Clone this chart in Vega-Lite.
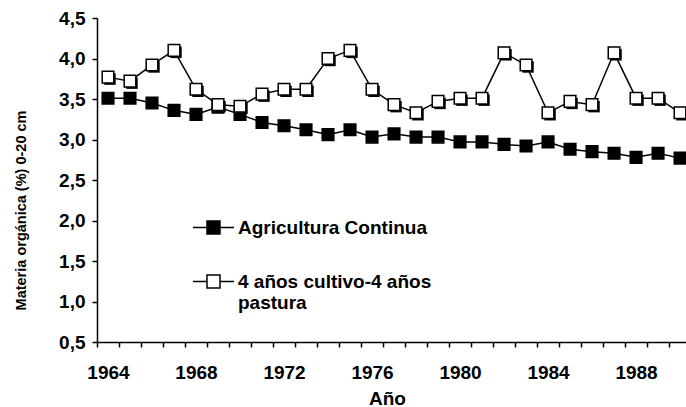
{
  "$schema": "https://vega.github.io/schema/vega-lite/v6.json",
  "width": 589,
  "height": 324,
  "autosize": {"type": "none"},
  "padding": {"left": 97, "top": 18, "right": 0, "bottom": 65},
  "background": "white",
  "config": {
    "view": {"stroke": null},
    "font": "Liberation Sans",
    "axis": {
      "domainColor": "black",
      "domainWidth": 1.5,
      "tickColor": "black",
      "tickWidth": 1.5,
      "tickSize": 5,
      "grid": false,
      "labelFont": "Liberation Sans",
      "labelFontWeight": "bold",
      "labelFontSize": 19,
      "labelColor": "black",
      "titleFont": "Liberation Sans",
      "titleFontWeight": "bold",
      "titleColor": "black"
    }
  },
  "data": {
    "values": [
      {"anio": 1964, "serie": "Agricultura Continua", "valor": 3.51},
      {"anio": 1965, "serie": "Agricultura Continua", "valor": 3.51},
      {"anio": 1966, "serie": "Agricultura Continua", "valor": 3.45},
      {"anio": 1967, "serie": "Agricultura Continua", "valor": 3.36},
      {"anio": 1968, "serie": "Agricultura Continua", "valor": 3.31},
      {"anio": 1969, "serie": "Agricultura Continua", "valor": 3.40},
      {"anio": 1970, "serie": "Agricultura Continua", "valor": 3.31},
      {"anio": 1971, "serie": "Agricultura Continua", "valor": 3.21},
      {"anio": 1972, "serie": "Agricultura Continua", "valor": 3.17},
      {"anio": 1973, "serie": "Agricultura Continua", "valor": 3.12},
      {"anio": 1974, "serie": "Agricultura Continua", "valor": 3.06},
      {"anio": 1975, "serie": "Agricultura Continua", "valor": 3.12},
      {"anio": 1976, "serie": "Agricultura Continua", "valor": 3.03},
      {"anio": 1977, "serie": "Agricultura Continua", "valor": 3.07},
      {"anio": 1978, "serie": "Agricultura Continua", "valor": 3.03},
      {"anio": 1979, "serie": "Agricultura Continua", "valor": 3.03},
      {"anio": 1980, "serie": "Agricultura Continua", "valor": 2.97},
      {"anio": 1981, "serie": "Agricultura Continua", "valor": 2.97},
      {"anio": 1982, "serie": "Agricultura Continua", "valor": 2.94},
      {"anio": 1983, "serie": "Agricultura Continua", "valor": 2.92},
      {"anio": 1984, "serie": "Agricultura Continua", "valor": 2.97},
      {"anio": 1985, "serie": "Agricultura Continua", "valor": 2.88},
      {"anio": 1986, "serie": "Agricultura Continua", "valor": 2.85},
      {"anio": 1987, "serie": "Agricultura Continua", "valor": 2.83},
      {"anio": 1988, "serie": "Agricultura Continua", "valor": 2.78},
      {"anio": 1989, "serie": "Agricultura Continua", "valor": 2.83},
      {"anio": 1990, "serie": "Agricultura Continua", "valor": 2.77},
      {"anio": 1964, "serie": "4 años cultivo-4 años pastura", "valor": 3.77},
      {"anio": 1965, "serie": "4 años cultivo-4 años pastura", "valor": 3.72},
      {"anio": 1966, "serie": "4 años cultivo-4 años pastura", "valor": 3.92},
      {"anio": 1967, "serie": "4 años cultivo-4 años pastura", "valor": 4.10},
      {"anio": 1968, "serie": "4 años cultivo-4 años pastura", "valor": 3.62},
      {"anio": 1969, "serie": "4 años cultivo-4 años pastura", "valor": 3.43},
      {"anio": 1970, "serie": "4 años cultivo-4 años pastura", "valor": 3.41},
      {"anio": 1971, "serie": "4 años cultivo-4 años pastura", "valor": 3.56},
      {"anio": 1972, "serie": "4 años cultivo-4 años pastura", "valor": 3.62},
      {"anio": 1973, "serie": "4 años cultivo-4 años pastura", "valor": 3.62},
      {"anio": 1974, "serie": "4 años cultivo-4 años pastura", "valor": 4.00},
      {"anio": 1975, "serie": "4 años cultivo-4 años pastura", "valor": 4.10},
      {"anio": 1976, "serie": "4 años cultivo-4 años pastura", "valor": 3.62},
      {"anio": 1977, "serie": "4 años cultivo-4 años pastura", "valor": 3.43},
      {"anio": 1978, "serie": "4 años cultivo-4 años pastura", "valor": 3.33},
      {"anio": 1979, "serie": "4 años cultivo-4 años pastura", "valor": 3.47},
      {"anio": 1980, "serie": "4 años cultivo-4 años pastura", "valor": 3.51},
      {"anio": 1981, "serie": "4 años cultivo-4 años pastura", "valor": 3.51},
      {"anio": 1982, "serie": "4 años cultivo-4 años pastura", "valor": 4.07},
      {"anio": 1983, "serie": "4 años cultivo-4 años pastura", "valor": 3.92},
      {"anio": 1984, "serie": "4 años cultivo-4 años pastura", "valor": 3.33},
      {"anio": 1985, "serie": "4 años cultivo-4 años pastura", "valor": 3.47},
      {"anio": 1986, "serie": "4 años cultivo-4 años pastura", "valor": 3.43},
      {"anio": 1987, "serie": "4 años cultivo-4 años pastura", "valor": 4.07},
      {"anio": 1988, "serie": "4 años cultivo-4 años pastura", "valor": 3.51},
      {"anio": 1989, "serie": "4 años cultivo-4 años pastura", "valor": 3.51},
      {"anio": 1990, "serie": "4 años cultivo-4 años pastura", "valor": 3.33}
    ]
  },
  "encoding": {
    "x": {
      "field": "anio",
      "type": "quantitative",
      "scale": {"domain": [1963.5, 1990.27], "nice": false, "zero": false},
      "axis": {
        "title": "Año",
        "titleFontSize": 19,
        "titleBaseline": "middle",
        "titleX": 290,
        "titleY": 56,
        "values": [1964, 1965, 1966, 1967, 1968, 1969, 1970, 1971, 1972, 1973, 1974, 1975, 1976, 1977, 1978, 1979, 1980, 1981, 1982, 1983, 1984, 1985, 1986, 1987, 1988, 1989, 1990],
        "tickOffset": -11,
        "labelOffset": 11,
        "labelExpr": "datum.value % 4 == 0 ? format(datum.value, 'd') : ''",
        "labelOverlap": false,
        "labelFlush": false,
        "labelBound": false,
        "labelPadding": 16
      }
    },
    "y": {
      "field": "valor",
      "type": "quantitative",
      "scale": {"domain": [0.5, 4.5], "nice": false, "zero": false},
      "axis": {
        "title": "Materia orgánica (%) 0-20 cm",
        "titleFontSize": 14.5,
        "titleAngle": -90,
        "titleBaseline": "middle",
        "titleX": -76,
        "titleY": 192,
        "values": [0.5, 1, 1.5, 2, 2.5, 3, 3.5, 4, 4.5],
        "labelExpr": "replace(format(datum.value, '.1f'), '.', ',')",
        "labelPadding": 7,
        "labelOverlap": false,
        "labelFlush": false,
        "labelBound": false
      }
    }
  },
  "layer": [
    {
      "mark": {"type": "line", "color": "black", "strokeWidth": 1.5},
      "encoding": {"detail": {"field": "serie"}}
    },
    {
      "transform": [{"filter": "datum.serie == '4 años cultivo-4 años pastura'"}],
      "mark": {"type": "point", "shape": "square", "filled": true, "color": "black", "size": 130, "opacity": 1, "xOffset": 2, "yOffset": 2}
    },
    {
      "mark": {"type": "point", "shape": "square", "filled": true, "size": 135, "opacity": 1, "stroke": "black", "strokeWidth": 1.5},
      "encoding": {
        "fill": {
          "field": "serie",
          "type": "nominal",
          "scale": {"domain": ["Agricultura Continua", "4 años cultivo-4 años pastura"], "range": ["black", "white"]},
          "legend": {
            "title": null,
            "orient": "none",
            "legendX": 95,
            "legendY": 188,
            "padding": 0,
            "rowPadding": 22,
            "symbolType": "M-1,0H-0.317M0.317,0H1M-0.317,-0.317H0.317V0.317H-0.317Z",
            "symbolSize": 1681,
            "symbolStrokeWidth": 1.5,
            "symbolStrokeColor": "black",
            "symbolOpacity": 1,
            "labelFont": "Liberation Sans",
            "labelFontWeight": "bold",
            "labelFontSize": 19,
            "labelColor": "black",
            "labelOffset": 3,
            "labelLimit": 400,
            "labelExpr": "datum.label == '4 años cultivo-4 años pastura' ? ['4 años cultivo-4 años', 'pastura'] : datum.label"
          }
        }
      }
    }
  ]
}
